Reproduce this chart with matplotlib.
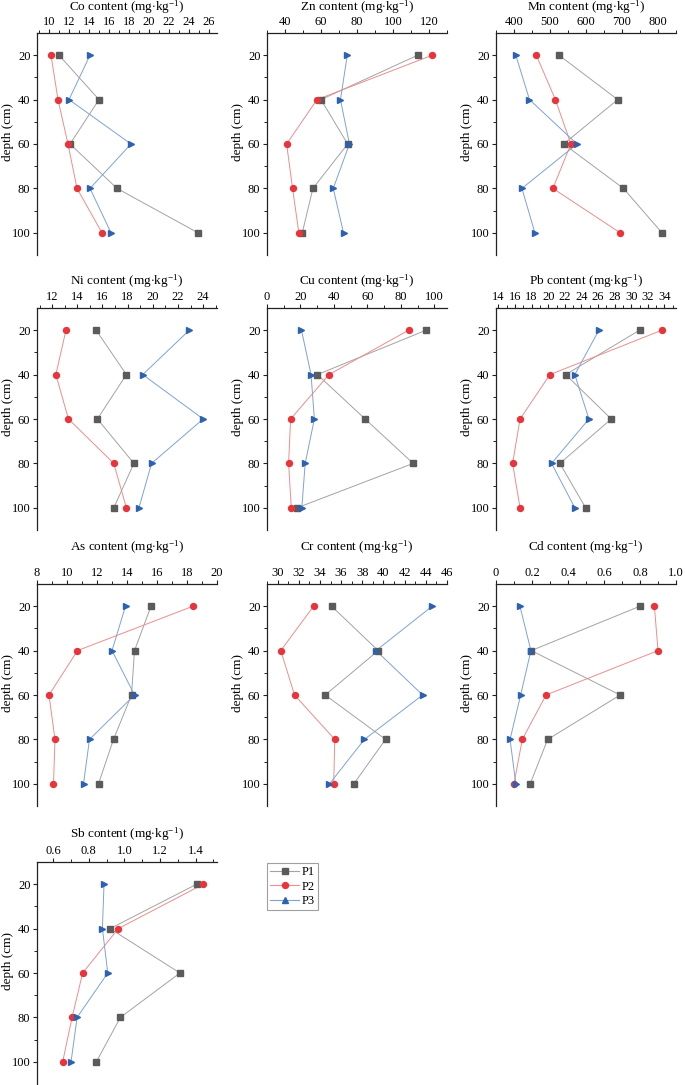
import matplotlib
matplotlib.use("Agg")
import matplotlib.pyplot as plt
from matplotlib.ticker import MultipleLocator, FixedLocator, FuncFormatter
from matplotlib.lines import Line2D

plt.rcParams['font.family'] = ['Liberation Serif', 'DejaVu Serif']
plt.rcParams['mathtext.fontset'] = 'custom'
plt.rcParams['mathtext.rm'] = 'Liberation Serif'
plt.rcParams['mathtext.it'] = 'Liberation Serif:italic'

# ---------------- data ----------------
depth = [20, 40, 60, 80, 100]
series_names = ["P1", "P2", "P3"]

co_p1 = [11.0, 15.0, 12.1, 16.8, 24.9]
co_p2 = [10.2, 10.9, 11.9, 12.8, 15.3]
co_p3 = [14.1, 12.0, 18.2, 14.1, 16.2]

zn_p1 = [113.7, 60.0, 74.8, 55.5, 49.6]
zn_p2 = [121.8, 57.8, 40.9, 44.2, 47.7]
zn_p3 = [74.6, 70.8, 75.8, 66.8, 72.5]

mn_p1 = [525, 688, 538, 704, 811]
mn_p2 = [462, 515, 558, 508, 695]
mn_p3 = [405, 443, 575, 422, 458]

ni_p1 = [15.5, 17.9, 15.6, 18.5, 16.9]
ni_p2 = [13.1, 12.3, 13.3, 16.9, 17.9]
ni_p3 = [22.9, 19.2, 24.0, 19.9, 18.9]

cu_p1 = [95.0, 30.1, 58.6, 87.3, 18.0]
cu_p2 = [84.6, 37.0, 14.1, 12.9, 14.5]
cu_p3 = [20.6, 26.3, 28.3, 22.8, 20.8]

pb_p1 = [31.0, 22.1, 27.6, 21.4, 24.5]
pb_p2 = [33.7, 20.2, 16.6, 15.7, 16.6]
pb_p3 = [26.1, 23.2, 24.9, 20.4, 23.2]

as_p1 = [15.6, 14.5, 14.3, 13.1, 12.1]
as_p2 = [18.4, 10.7, 8.8, 9.2, 9.1]
as_p3 = [13.9, 13.0, 14.5, 11.5, 11.1]

cr_p1 = [35.1, 39.5, 34.5, 40.2, 37.2]
cr_p2 = [33.4, 30.3, 31.6, 35.4, 35.3]
cr_p3 = [44.6, 39.3, 43.7, 38.2, 34.9]

cd_p1 = [0.80, 0.196, 0.69, 0.287, 0.19]
cd_p2 = [0.88, 0.90, 0.278, 0.146, 0.10]
cd_p3 = [0.133, 0.194, 0.137, 0.078, 0.11]

sb_p1 = [1.406, 0.92, 1.312, 0.978, 0.843]
sb_p2 = [1.443, 0.966, 0.766, 0.707, 0.654]
sb_p3 = [0.886, 0.877, 0.907, 0.735, 0.701]

elements = ["Co", "Zn", "Mn", "Ni", "Cu", "Pb", "As", "Cr", "Cd", "Sb"]
x_ticks = {
    "Co": [10, 12, 14, 16, 18, 20, 22, 24, 26],
    "Zn": [40, 60, 80, 100, 120],
    "Mn": [400, 500, 600, 700, 800],
    "Ni": [12, 14, 16, 18, 20, 22, 24],
    "Cu": [0, 20, 40, 60, 80, 100],
    "Pb": [14, 16, 18, 20, 22, 24, 26, 28, 30, 32, 34],
    "As": [8, 10, 12, 14, 16, 18, 20],
    "Cr": [30, 32, 34, 36, 38, 40, 42, 44, 46],
    "Cd": [0, 0.2, 0.4, 0.6, 0.8, 1.0],
    "Sb": [0.6, 0.8, 1.0, 1.2, 1.4],
}
y_ticks = [20, 40, 60, 80, 100]

data = {
    "Co": (co_p1, co_p2, co_p3),
    "Zn": (zn_p1, zn_p2, zn_p3),
    "Mn": (mn_p1, mn_p2, mn_p3),
    "Ni": (ni_p1, ni_p2, ni_p3),
    "Cu": (cu_p1, cu_p2, cu_p3),
    "Pb": (pb_p1, pb_p2, pb_p3),
    "As": (as_p1, as_p2, as_p3),
    "Cr": (cr_p1, cr_p2, cr_p3),
    "Cd": (cd_p1, cd_p2, cd_p3),
    "Sb": (sb_p1, sb_p2, sb_p3),
}

# ---------------- layout / style ----------------
W, H = 685, 1085
xlims = {"Co": (8.8, 26.8), "Zn": (30, 130), "Mn": (350, 850), "Ni": (10.8, 25.1),
         "Cu": (0, 107.5), "Pb": (13.7, 35.4), "As": (8, 20), "Cr": (29, 46),
         "Cd": (0, 1.0), "Sb": (0.51, 1.52)}
minor_step = {"Co": 1, "Zn": 10, "Mn": 50, "Ni": 1, "Cu": 10, "Pb": 1, "As": 1,
              "Cr": 1, "Cd": 0.1, "Sb": 0.1}
col_left = [37, 267, 496]
row_top = [33, 308, 584, 862]
title_y = [7, 281, 547, 834]
ax_w, ax_h = 180, 222

marker_cols = ["#5b5b5b", "#e8353b", "#2c62b0"]
line_cols = ["#a3a3a3", "#ef8c8c", "#7ea2d8"]
markers = ["s", "o", ">"]
legend_markers = ["s", "o", "^"]

TICK_FS = 9
TITLE_FS = 9.5

fig = plt.figure(figsize=(W / 100, H / 100), dpi=100)

for i, el in enumerate(elements):
    r, c = divmod(i, 3)
    left = col_left[c]
    top = row_top[r]
    ax = fig.add_axes([left / W, 1 - (top + ax_h) / H, ax_w / W, ax_h / H])
    for k in range(3):
        ax.plot(data[el][k], depth, color=line_cols[k], lw=0.7, zorder=2)
        ax.plot(data[el][k], depth, ls="none", marker=markers[k], ms=4.3,
                color=marker_cols[k], mec=marker_cols[k], zorder=3)
    ax.set_xlim(*xlims[el])
    ax.set_ylim(110, 10)
    ax.xaxis.tick_top()
    ax.xaxis.set_major_locator(FixedLocator(x_ticks[el]))
    ax.xaxis.set_minor_locator(MultipleLocator(minor_step[el]))
    if el in ("Cd", "Sb"):
        ax.xaxis.set_major_formatter(FuncFormatter(lambda v, p: "0" if abs(v) < 1e-9 else f"{v:.1f}"))
    else:
        ax.xaxis.set_major_formatter(FuncFormatter(lambda v, p: f"{v:g}"))
    ax.yaxis.set_major_locator(FixedLocator(y_ticks))
    ax.yaxis.set_minor_locator(FixedLocator([30, 50, 70, 90]))
    for s in ("right", "bottom"):
        ax.spines[s].set_visible(False)
    for s in ("left", "top"):
        ax.spines[s].set_linewidth(0.9)
        ax.spines[s].set_color("#222222")
    ax.tick_params(axis="both", which="major", direction="out", length=3.2, width=0.8,
                   labelsize=TICK_FS, pad=1.5, color="#222222")
    ax.tick_params(axis="both", which="minor", direction="out", length=2, width=0.7,
                   color="#222222")
    ax.tick_params(axis="x", which="both", top=True, bottom=False, labeltop=True,
                   labelbottom=False, pad=0.2)
    ax.set_facecolor("none")
    fig.text((left + ax_w / 2) / W, 1 - title_y[r] / H,
             el + r" content (mg$\cdot$kg$^{\mathrm{-1}}$)",
             ha="center", va="center", fontsize=TITLE_FS)
    fig.text((left - 29) / W, 1 - (top + ax_h / 2 - 12) / H, "depth (cm)",
             rotation=90, ha="center", va="center", fontsize=TITLE_FS)

handles = [Line2D([0], [0], color=line_cols[k], lw=0.8, marker=legend_markers[k],
                  ms=4.3, mfc=marker_cols[k], mec=marker_cols[k]) for k in range(3)]
leg = fig.legend(handles, series_names, loc="upper left",
                 bbox_to_anchor=(267 / W, 1 - 863 / H), frameon=True, fancybox=False,
                 fontsize=9, handlelength=2.3, handletextpad=0.2, borderpad=0.25,
                 labelspacing=0.2, borderaxespad=0)
leg.get_frame().set_edgecolor("#888888")
leg.get_frame().set_linewidth(0.8)

fig.savefig("out.png", dpi=100)
